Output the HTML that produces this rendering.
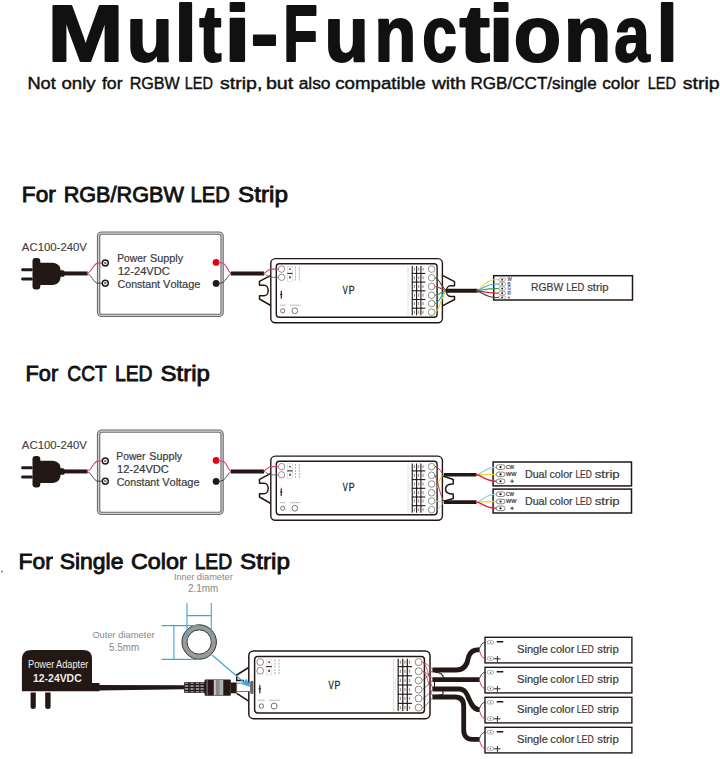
<!DOCTYPE html>
<html><head><meta charset="utf-8"><style>
html,body{margin:0;padding:0;background:#fff;}
svg{display:block;font-family:"Liberation Sans", sans-serif;font-kerning:none;font-variant-ligatures:none;}
</style></head><body>
<svg width="720" height="759" viewBox="0 0 720 759">
<rect width="720" height="759" fill="#fff"/>
<text x="47.40" y="61" font-size="79" font-weight="bold" fill="#111" textLength="76.01" lengthAdjust="spacingAndGlyphs" stroke="#111" stroke-width="2" stroke-linejoin="round">M</text>
<g transform="translate(0,61) scale(1,0.978) translate(0,-61)">
<text x="126.59" y="61" font-size="79" font-weight="bold" fill="#111" textLength="46.42" lengthAdjust="spacingAndGlyphs" stroke="#111" stroke-width="2" stroke-linejoin="round">u</text>
</g>
<text x="174.40" y="61" font-size="79" font-weight="bold" fill="#111" textLength="22.27" lengthAdjust="spacingAndGlyphs" stroke="#111" stroke-width="2" stroke-linejoin="round">l</text>
<text x="199.18" y="61" font-size="79" font-weight="bold" fill="#111" textLength="22.34" lengthAdjust="spacingAndGlyphs" stroke="#111" stroke-width="2" stroke-linejoin="round">t</text>
<text x="224.38" y="61" font-size="79" font-weight="bold" fill="#111" textLength="26.32" lengthAdjust="spacingAndGlyphs" stroke="#111" stroke-width="2" stroke-linejoin="round">i</text>
<text x="250.77" y="61" font-size="79" font-weight="bold" fill="#111" textLength="27.54" lengthAdjust="spacingAndGlyphs" stroke="#111" stroke-width="2" stroke-linejoin="round">-</text>
<text x="283.22" y="61" font-size="79" font-weight="bold" fill="#111" textLength="34.56" lengthAdjust="spacingAndGlyphs" stroke="#111" stroke-width="2" stroke-linejoin="round">F</text>
<g transform="translate(0,61) scale(1,0.978) translate(0,-61)">
<text x="324.51" y="61" font-size="79" font-weight="bold" fill="#111" textLength="44.27" lengthAdjust="spacingAndGlyphs" stroke="#111" stroke-width="2" stroke-linejoin="round">u</text>
</g>
<g transform="translate(0,61) scale(1,0.978) translate(0,-61)">
<text x="374.50" y="61" font-size="79" font-weight="bold" fill="#111" textLength="41.74" lengthAdjust="spacingAndGlyphs" stroke="#111" stroke-width="2" stroke-linejoin="round">n</text>
</g>
<g transform="translate(0,61) scale(1,0.978) translate(0,-61)">
<text x="422.17" y="61" font-size="79" font-weight="bold" fill="#111" textLength="34.66" lengthAdjust="spacingAndGlyphs" stroke="#111" stroke-width="2" stroke-linejoin="round">c</text>
</g>
<text x="459.58" y="61" font-size="79" font-weight="bold" fill="#111" textLength="30.54" lengthAdjust="spacingAndGlyphs" stroke="#111" stroke-width="2" stroke-linejoin="round">t</text>
<text x="488.64" y="61" font-size="79" font-weight="bold" fill="#111" textLength="25.31" lengthAdjust="spacingAndGlyphs" stroke="#111" stroke-width="2" stroke-linejoin="round">i</text>
<g transform="translate(0,61) scale(1,0.978) translate(0,-61)">
<text x="513.67" y="61" font-size="79" font-weight="bold" fill="#111" textLength="47.36" lengthAdjust="spacingAndGlyphs" stroke="#111" stroke-width="2" stroke-linejoin="round">o</text>
</g>
<g transform="translate(0,61) scale(1,0.978) translate(0,-61)">
<text x="563.85" y="61" font-size="79" font-weight="bold" fill="#111" textLength="47.69" lengthAdjust="spacingAndGlyphs" stroke="#111" stroke-width="2" stroke-linejoin="round">n</text>
</g>
<g transform="translate(0,61) scale(1,0.978) translate(0,-61)">
<text x="614.13" y="61" font-size="79" font-weight="bold" fill="#111" textLength="35.46" lengthAdjust="spacingAndGlyphs" stroke="#111" stroke-width="2" stroke-linejoin="round">a</text>
</g>
<text x="656.46" y="61" font-size="79" font-weight="bold" fill="#111" textLength="21.26" lengthAdjust="spacingAndGlyphs" stroke="#111" stroke-width="2" stroke-linejoin="round">l</text>
<text x="27.41" y="89" font-size="17.4" font-weight="normal" fill="#111" textLength="28.33" lengthAdjust="spacingAndGlyphs" stroke="#111" stroke-width="0.45">Not</text>
<text x="61.42" y="89" font-size="17.4" font-weight="normal" fill="#111" textLength="34.22" lengthAdjust="spacingAndGlyphs" stroke="#111" stroke-width="0.45">only</text>
<text x="101.95" y="89" font-size="17.4" font-weight="normal" fill="#111" textLength="20.64" lengthAdjust="spacingAndGlyphs" stroke="#111" stroke-width="0.45">for</text>
<text x="129.68" y="89" font-size="17.4" font-weight="normal" fill="#111" textLength="50.18" lengthAdjust="spacingAndGlyphs" stroke="#111" stroke-width="0.45">RGBW</text>
<text x="184.81" y="89" font-size="17.4" font-weight="normal" fill="#111" textLength="28.18" lengthAdjust="spacingAndGlyphs" stroke="#111" stroke-width="0.45">LED</text>
<text x="219.96" y="89" font-size="17.4" font-weight="normal" fill="#111" textLength="42.40" lengthAdjust="spacingAndGlyphs" stroke="#111" stroke-width="0.45">strip,</text>
<text x="265.93" y="89" font-size="17.4" font-weight="normal" fill="#111" textLength="27.31" lengthAdjust="spacingAndGlyphs" stroke="#111" stroke-width="0.45">but</text>
<text x="298.66" y="89" font-size="17.4" font-weight="normal" fill="#111" textLength="31.87" lengthAdjust="spacingAndGlyphs" stroke="#111" stroke-width="0.45">also</text>
<text x="335.21" y="89" font-size="17.4" font-weight="normal" fill="#111" textLength="90.43" lengthAdjust="spacingAndGlyphs" stroke="#111" stroke-width="0.45">compatible</text>
<text x="431.93" y="89" font-size="17.4" font-weight="normal" fill="#111" textLength="34.12" lengthAdjust="spacingAndGlyphs" stroke="#111" stroke-width="0.45">with</text>
<text x="470.50" y="89" font-size="17.4" font-weight="normal" fill="#111" textLength="126.16" lengthAdjust="spacingAndGlyphs" stroke="#111" stroke-width="0.45">RGB/CCT/single</text>
<text x="602.27" y="89" font-size="17.4" font-weight="normal" fill="#111" textLength="37.21" lengthAdjust="spacingAndGlyphs" stroke="#111" stroke-width="0.45">color</text>
<text x="647.75" y="89" font-size="17.4" font-weight="normal" fill="#111" textLength="28.34" lengthAdjust="spacingAndGlyphs" stroke="#111" stroke-width="0.45">LED</text>
<text x="682.66" y="89" font-size="17.4" font-weight="normal" fill="#111" textLength="36.97" lengthAdjust="spacingAndGlyphs" stroke="#111" stroke-width="0.45">strip</text>
<text x="21.87" y="202" font-size="21.8" font-weight="normal" fill="#111" textLength="33.89" lengthAdjust="spacingAndGlyphs" stroke="#111" stroke-width="0.85">For</text>
<text x="63.65" y="202" font-size="21.8" font-weight="normal" fill="#111" textLength="120.21" lengthAdjust="spacingAndGlyphs" stroke="#111" stroke-width="0.85">RGB/RGBW</text>
<text x="190.46" y="202" font-size="21.8" font-weight="normal" fill="#111" textLength="39.28" lengthAdjust="spacingAndGlyphs" stroke="#111" stroke-width="0.85">LED</text>
<text x="238.02" y="202" font-size="21.8" font-weight="normal" fill="#111" textLength="49.88" lengthAdjust="spacingAndGlyphs" stroke="#111" stroke-width="0.85">Strip</text>
<text x="25.54" y="381" font-size="21.8" font-weight="normal" fill="#111" textLength="32.60" lengthAdjust="spacingAndGlyphs" stroke="#111" stroke-width="0.85">For</text>
<text x="67.34" y="381" font-size="21.8" font-weight="normal" fill="#111" textLength="39.48" lengthAdjust="spacingAndGlyphs" stroke="#111" stroke-width="0.85">CCT</text>
<text x="114.94" y="381" font-size="21.8" font-weight="normal" fill="#111" textLength="37.57" lengthAdjust="spacingAndGlyphs" stroke="#111" stroke-width="0.85">LED</text>
<text x="160.53" y="381" font-size="21.8" font-weight="normal" fill="#111" textLength="49.36" lengthAdjust="spacingAndGlyphs" stroke="#111" stroke-width="0.85">Strip</text>
<text x="18.55" y="568.7" font-size="21.8" font-weight="normal" fill="#111" textLength="34.21" lengthAdjust="spacingAndGlyphs" stroke="#111" stroke-width="0.85">For</text>
<text x="59.68" y="568.7" font-size="21.8" font-weight="normal" fill="#111" textLength="63.72" lengthAdjust="spacingAndGlyphs" stroke="#111" stroke-width="0.85">Single</text>
<text x="130.94" y="568.7" font-size="21.8" font-weight="normal" fill="#111" textLength="55.73" lengthAdjust="spacingAndGlyphs" stroke="#111" stroke-width="0.85">Color</text>
<text x="194.64" y="568.7" font-size="21.8" font-weight="normal" fill="#111" textLength="37.57" lengthAdjust="spacingAndGlyphs" stroke="#111" stroke-width="0.85">LED</text>
<text x="240.02" y="568.7" font-size="21.8" font-weight="normal" fill="#111" textLength="49.88" lengthAdjust="spacingAndGlyphs" stroke="#111" stroke-width="0.85">Strip</text>
<defs><g id="vpbody"><rect x="270.8" y="258.6" width="171.6" height="64.1" rx="4.5" fill="#fff" stroke="#231815" stroke-width="1.4"/><rect x="276.3" y="263.8" width="160.8" height="53.5" rx="3" fill="none" stroke="#231815" stroke-width="1.4"/><circle cx="281.6" cy="269.1" r="3.2" fill="#fff" stroke="#777" stroke-width="0.8"/><circle cx="281.6" cy="277.3" r="3.2" fill="#fff" stroke="#777" stroke-width="0.8"/><rect x="287.3" y="266.3" width="5.3" height="14.9" fill="none" stroke="#ccc" stroke-width="0.5"/><line x1="287.3" y1="273.4" x2="292.6" y2="273.4" stroke="#231815" stroke-width="1"/><rect x="289.4" y="268.4" width="1.3" height="1.5" fill="#231815"/><rect x="289.4" y="276.2" width="1.3" height="2.2" fill="#231815"/><line x1="295.5" y1="266.5" x2="295.5" y2="280.5" stroke="#aaa" stroke-width="0.9" stroke-dasharray="2 1"/><line x1="299.4" y1="266.5" x2="299.4" y2="280.5" stroke="#aaa" stroke-width="0.9" stroke-dasharray="2 1"/><line x1="281.25" y1="289" x2="281.25" y2="300.4" stroke="#ccc" stroke-width="0.6"/><line x1="281.25" y1="291" x2="281.25" y2="298.5" stroke="#231815" stroke-width="1.1"/><line x1="280" y1="294.5" x2="282.5" y2="294.5" stroke="#231815" stroke-width="0.8"/><line x1="279.8" y1="305.2" x2="285.9" y2="305.2" stroke="#999" stroke-width="0.9" stroke-dasharray="1.4 0.5"/><line x1="290.1" y1="305.2" x2="300.5" y2="305.2" stroke="#999" stroke-width="0.9" stroke-dasharray="1.4 0.5"/><circle cx="282.7" cy="310.75" r="2.1" fill="none" stroke="#555" stroke-width="0.8"/><circle cx="294.8" cy="310.75" r="2.85" fill="none" stroke="#555" stroke-width="0.8"/><line x1="408" y1="266" x2="408" y2="315.3" stroke="#d8d8d8" stroke-width="0.8"/><line x1="409.8" y1="285" x2="409.8" y2="296" stroke="#bbb" stroke-width="0.6" stroke-dasharray="1 0.6"/><line x1="412.25" y1="265.9" x2="412.25" y2="315.3" stroke="#231815" stroke-width="1.1"/><line x1="416.6" y1="265.9" x2="416.6" y2="315.3" stroke="#231815" stroke-width="1.1"/><line x1="420.9" y1="265.9" x2="420.9" y2="315.3" stroke="#231815" stroke-width="1.1"/><line x1="411.9" y1="273.4" x2="425.3" y2="273.4" stroke="#231815" stroke-width="1.1"/><line x1="411.9" y1="282.1" x2="425.3" y2="282.1" stroke="#231815" stroke-width="1.1"/><line x1="411.9" y1="290.8" x2="425.3" y2="290.8" stroke="#231815" stroke-width="1.1"/><line x1="411.9" y1="299.5" x2="425.3" y2="299.5" stroke="#231815" stroke-width="1.1"/><line x1="411.9" y1="308.2" x2="425.3" y2="308.2" stroke="#231815" stroke-width="1.1"/><rect x="413.79999999999995" y="267.6" width="1.2" height="3" fill="#999"/><rect x="418.09999999999997" y="267.6" width="1.2" height="3" fill="#999"/><rect x="422.4" y="267.6" width="1.2" height="3" fill="#999"/><circle cx="431.6" cy="269.1" r="3.3" fill="#fff" stroke="#777" stroke-width="0.8"/><rect x="413.79999999999995" y="276.3" width="1.2" height="3" fill="#999"/><rect x="418.09999999999997" y="276.3" width="1.2" height="3" fill="#999"/><rect x="422.4" y="276.3" width="1.2" height="3" fill="#999"/><circle cx="431.6" cy="277.8" r="3.3" fill="#fff" stroke="#777" stroke-width="0.8"/><rect x="413.79999999999995" y="285.0" width="1.2" height="3" fill="#999"/><rect x="418.09999999999997" y="285.0" width="1.2" height="3" fill="#999"/><rect x="422.4" y="285.0" width="1.2" height="3" fill="#999"/><circle cx="431.6" cy="286.5" r="3.3" fill="#fff" stroke="#777" stroke-width="0.8"/><rect x="413.79999999999995" y="293.7" width="1.2" height="3" fill="#999"/><rect x="418.09999999999997" y="293.7" width="1.2" height="3" fill="#999"/><rect x="422.4" y="293.7" width="1.2" height="3" fill="#999"/><circle cx="431.6" cy="295.2" r="3.3" fill="#fff" stroke="#777" stroke-width="0.8"/><rect x="413.79999999999995" y="302.0" width="1.2" height="3" fill="#999"/><rect x="418.09999999999997" y="302.0" width="1.2" height="3" fill="#999"/><rect x="422.4" y="302.0" width="1.2" height="3" fill="#999"/><circle cx="431.6" cy="303.5" r="3.3" fill="#fff" stroke="#777" stroke-width="0.8"/><rect x="413.79999999999995" y="310.7" width="1.2" height="3" fill="#999"/><rect x="418.09999999999997" y="310.7" width="1.2" height="3" fill="#999"/><rect x="422.4" y="310.7" width="1.2" height="3" fill="#999"/><circle cx="431.6" cy="312.2" r="3.3" fill="#fff" stroke="#777" stroke-width="0.8"/></g></defs>
<g transform="translate(0,0)">
<rect x="98.6" y="233.1" width="123.5" height="82.3" rx="3.2" fill="none" stroke="#6c6c6c" stroke-width="3.4"/>
<rect x="98.6" y="233.1" width="123.5" height="82.3" rx="3.2" fill="none" stroke="#d2d2d2" stroke-width="1.2"/>
<text x="21.88" y="250.6" font-size="10.9" font-weight="normal" fill="#444" textLength="65.07" lengthAdjust="spacingAndGlyphs" stroke="#444" stroke-width="0.15">AC100-240V</text>
<rect x="21.2" y="268.2" width="11.5" height="3.1" rx="1.4" fill="#231815"/>
<rect x="21.2" y="277.5" width="11.5" height="3.1" rx="1.4" fill="#231815"/>
<rect x="32.5" y="258" width="7.8" height="31.4" rx="3.2" fill="#231815"/>
<path d="M39,262.8 L52,262.8 C58,262.8 60.5,267 60.5,270 L60.5,277 C60.5,281 58,285 52,285 L39,285 Z" fill="#231815"/>
<rect x="58.5" y="270.3" width="6" height="6.4" rx="1.5" fill="#231815"/>
<line x1="63" y1="273.45" x2="87.5" y2="273.45" stroke="#231815" stroke-width="4"/>
<path d="M86.5,273.2 C92,273 93,263.2 98,263.1 L102,263" fill="none" stroke="#e0406a" stroke-width="1.1"/>
<path d="M86.5,273.8 C92,274 93,283 98,283.2 L102,283.2" fill="none" stroke="#333" stroke-width="0.9"/>
<circle cx="105.3" cy="263" r="3" fill="#fff" stroke="#231815" stroke-width="1.4"/>
<path d="M103.9,261.6 L106.7,264.4 M106.7,261.6 L103.9,264.4" stroke="#231815" stroke-width="0.7"/>
<circle cx="105.3" cy="283.2" r="3" fill="#fff" stroke="#231815" stroke-width="1.4"/>
<path d="M103.9,281.8 L106.7,284.59999999999997 M106.7,281.8 L103.9,284.59999999999997" stroke="#231815" stroke-width="0.7"/>
<g transform="translate(0,0)">
<text x="117.26" y="261.9" font-size="10.9" font-weight="normal" fill="#3a3a3a" textLength="29.16" lengthAdjust="spacingAndGlyphs" stroke="#3a3a3a" stroke-width="0.2">Power</text>
<text x="150.11" y="261.9" font-size="10.9" font-weight="normal" fill="#3a3a3a" textLength="33.01" lengthAdjust="spacingAndGlyphs" stroke="#3a3a3a" stroke-width="0.2">Supply</text>
<text x="117.90" y="274.6" font-size="10.9" font-weight="normal" fill="#3a3a3a" textLength="51.92" lengthAdjust="spacingAndGlyphs" stroke="#3a3a3a" stroke-width="0.2">12-24VDC</text>
<text x="117.56" y="288.1" font-size="10.9" font-weight="normal" fill="#3a3a3a" textLength="42.52" lengthAdjust="spacingAndGlyphs" stroke="#3a3a3a" stroke-width="0.2">Constant</text>
<text x="163.05" y="288.1" font-size="10.9" font-weight="normal" fill="#3a3a3a" textLength="37.44" lengthAdjust="spacingAndGlyphs" stroke="#3a3a3a" stroke-width="0.2">Voltage</text>
</g>
<circle cx="216.1" cy="262.4" r="3.4" fill="#e60012"/>
<circle cx="216.1" cy="283.4" r="3.4" fill="#231815"/>
<path d="M218,262.5 C222,262.5 224,263 226,266 C228,269.5 229,273.2 232,273.3" fill="none" stroke="#d8406a" stroke-width="1.1"/>
<path d="M218,283.3 C221,283.3 223,283 225.5,280 C228,277 229,273.8 232,273.7" fill="none" stroke="#333" stroke-width="0.9"/>
<line x1="231" y1="273.5" x2="264" y2="273.5" stroke="#231815" stroke-width="3.8"/>
<path d="M270.8,275.3 L259.5,281.3 L259.5,285.3 L264,285.3 A4.2 5.25 0 0 1 264,295.8 L259.5,295.8 L259.5,299 L270.8,305.5" fill="none" stroke="#231815" stroke-width="1.5" stroke-linejoin="round"/>
</g>
<use href="#vpbody" transform="translate(0,0)"/>
<g transform="translate(0,0)">
<path d="M263.5,273.2 C266.5,272.8 267.5,269.2 271.5,269.1 L278.4,269.1" fill="none" stroke="#d8406a" stroke-width="1.1"/>
<path d="M263.5,273.8 C266,274.2 267.5,276.6 270.5,277.3 L278.4,277.3" fill="none" stroke="#555" stroke-width="0.8"/>
<text x="342.84" y="293.75" font-size="10.9" font-weight="normal" fill="#2a2a2a" textLength="4.92" lengthAdjust="spacingAndGlyphs" stroke="#2a2a2a" stroke-width="0.35">V</text>
<text x="348.75" y="293.75" font-size="10.9" font-weight="normal" fill="#2a2a2a" textLength="5.84" lengthAdjust="spacingAndGlyphs" stroke="#2a2a2a" stroke-width="0.35">P</text>
</g>
<g transform="translate(0,198)">
<rect x="98.6" y="233.1" width="123.5" height="82.3" rx="3.2" fill="none" stroke="#6c6c6c" stroke-width="3.4"/>
<rect x="98.6" y="233.1" width="123.5" height="82.3" rx="3.2" fill="none" stroke="#d2d2d2" stroke-width="1.2"/>
<text x="21.88" y="250.6" font-size="10.9" font-weight="normal" fill="#444" textLength="65.07" lengthAdjust="spacingAndGlyphs" stroke="#444" stroke-width="0.15">AC100-240V</text>
<rect x="21.2" y="268.2" width="11.5" height="3.1" rx="1.4" fill="#231815"/>
<rect x="21.2" y="277.5" width="11.5" height="3.1" rx="1.4" fill="#231815"/>
<rect x="32.5" y="258" width="7.8" height="31.4" rx="3.2" fill="#231815"/>
<path d="M39,262.8 L52,262.8 C58,262.8 60.5,267 60.5,270 L60.5,277 C60.5,281 58,285 52,285 L39,285 Z" fill="#231815"/>
<rect x="58.5" y="270.3" width="6" height="6.4" rx="1.5" fill="#231815"/>
<line x1="63" y1="273.45" x2="87.5" y2="273.45" stroke="#231815" stroke-width="4"/>
<path d="M86.5,273.2 C92,273 93,263.2 98,263.1 L102,263" fill="none" stroke="#e0406a" stroke-width="1.1"/>
<path d="M86.5,273.8 C92,274 93,283 98,283.2 L102,283.2" fill="none" stroke="#333" stroke-width="0.9"/>
<circle cx="105.3" cy="263" r="3" fill="#fff" stroke="#231815" stroke-width="1.4"/>
<path d="M103.9,261.6 L106.7,264.4 M106.7,261.6 L103.9,264.4" stroke="#231815" stroke-width="0.7"/>
<circle cx="105.3" cy="283.2" r="3" fill="#fff" stroke="#231815" stroke-width="1.4"/>
<path d="M103.9,281.8 L106.7,284.59999999999997 M106.7,281.8 L103.9,284.59999999999997" stroke="#231815" stroke-width="0.7"/>
<g transform="translate(-0.9,0)">
<text x="117.26" y="261.9" font-size="10.9" font-weight="normal" fill="#3a3a3a" textLength="29.16" lengthAdjust="spacingAndGlyphs" stroke="#3a3a3a" stroke-width="0.2">Power</text>
<text x="150.11" y="261.9" font-size="10.9" font-weight="normal" fill="#3a3a3a" textLength="33.01" lengthAdjust="spacingAndGlyphs" stroke="#3a3a3a" stroke-width="0.2">Supply</text>
<text x="117.90" y="274.6" font-size="10.9" font-weight="normal" fill="#3a3a3a" textLength="51.92" lengthAdjust="spacingAndGlyphs" stroke="#3a3a3a" stroke-width="0.2">12-24VDC</text>
<text x="117.56" y="288.1" font-size="10.9" font-weight="normal" fill="#3a3a3a" textLength="42.52" lengthAdjust="spacingAndGlyphs" stroke="#3a3a3a" stroke-width="0.2">Constant</text>
<text x="163.05" y="288.1" font-size="10.9" font-weight="normal" fill="#3a3a3a" textLength="37.44" lengthAdjust="spacingAndGlyphs" stroke="#3a3a3a" stroke-width="0.2">Voltage</text>
</g>
<circle cx="216.1" cy="262.4" r="3.4" fill="#e60012"/>
<circle cx="216.1" cy="283.4" r="3.4" fill="#231815"/>
<path d="M218,262.5 C222,262.5 224,263 226,266 C228,269.5 229,273.2 232,273.3" fill="none" stroke="#d8406a" stroke-width="1.1"/>
<path d="M218,283.3 C221,283.3 223,283 225.5,280 C228,277 229,273.8 232,273.7" fill="none" stroke="#333" stroke-width="0.9"/>
<line x1="231" y1="273.5" x2="264" y2="273.5" stroke="#231815" stroke-width="3.8"/>
<path d="M270.8,275.3 L259.5,281.3 L259.5,285.3 L264,285.3 A4.2 5.25 0 0 1 264,295.8 L259.5,295.8 L259.5,299 L270.8,305.5" fill="none" stroke="#231815" stroke-width="1.5" stroke-linejoin="round"/>
</g>
<use href="#vpbody" transform="translate(0,197.5)"/>
<g transform="translate(0,197.5)">
<path d="M263.5,273.2 C266.5,272.8 267.5,269.2 271.5,269.1 L278.4,269.1" fill="none" stroke="#d8406a" stroke-width="1.1"/>
<path d="M263.5,273.8 C266,274.2 267.5,276.6 270.5,277.3 L278.4,277.3" fill="none" stroke="#555" stroke-width="0.8"/>
<text x="342.84" y="293.75" font-size="10.9" font-weight="normal" fill="#2a2a2a" textLength="4.92" lengthAdjust="spacingAndGlyphs" stroke="#2a2a2a" stroke-width="0.35">V</text>
<text x="348.75" y="293.75" font-size="10.9" font-weight="normal" fill="#2a2a2a" textLength="5.84" lengthAdjust="spacingAndGlyphs" stroke="#2a2a2a" stroke-width="0.35">P</text>
</g>
<path d="M442.4,275.3 L454.5,281.6 L454.5,285.8 L450.5,285.8 A4.2 5.3 0 0 0 450.5,296.4 L454.5,296.4 L454.5,299.5 L442.4,305.8" fill="none" stroke="#231815" stroke-width="1.5" stroke-linejoin="round"/>
<path d="M434.8,277.8 C440,277.8 442,290.6 447.5,290.6" fill="none" stroke="#444" stroke-width="1.1"/>
<path d="M434.8,286.5 C440,286.5 442,290.6 447.5,290.6" fill="none" stroke="#e0203a" stroke-width="1.1"/>
<path d="M434.8,295.2 C440,295.2 442,290.6 447.5,290.6" fill="none" stroke="#2aa04a" stroke-width="1.1"/>
<path d="M434.8,303.5 C440,303.5 442,290.6 447.5,290.6" fill="none" stroke="#29a0e0" stroke-width="1.1"/>
<path d="M434.8,312.2 C440,312.2 442,290.6 447.5,290.6" fill="none" stroke="#f0d020" stroke-width="1.1"/>
<line x1="447.5" y1="290.8" x2="477" y2="290.8" stroke="#231815" stroke-width="4" stroke-linecap="round"/>
<rect x="493.7" y="275.7" width="138.8" height="24.3" fill="#fff" stroke="#231815" stroke-width="1.5"/>
<path d="M476.5,290.8 C482,289.468 486,277.702 499,279.7" fill="none" stroke="#f0d840" stroke-width="1.2"/>
<path d="M476.5,290.8 C482,289.99600000000004 486,282.894 499,284.1" fill="none" stroke="#40b0e0" stroke-width="1.2"/>
<path d="M476.5,290.8 C482,290.536 486,288.204 499,288.6" fill="none" stroke="#30a050" stroke-width="1.2"/>
<path d="M476.5,290.8 C482,291.064 486,293.396 499,293.0" fill="none" stroke="#e02040" stroke-width="1.2"/>
<path d="M476.5,290.8 C482,291.592 486,298.58799999999997 499,297.4" fill="none" stroke="#444" stroke-width="1.2"/>
<rect x="498.8" y="278.0" width="6.8" height="3.4" rx="1.7" fill="#fff" stroke="#777" stroke-width="0.6"/>
<circle cx="502.2" cy="279.7" r="0.9" fill="#231815"/>
<text x="507.6" y="281.4" font-size="4.6" fill="#444" stroke="#444" stroke-width="0.15">W</text>
<rect x="498.8" y="282.40000000000003" width="6.8" height="3.4" rx="1.7" fill="#fff" stroke="#777" stroke-width="0.6"/>
<circle cx="502.2" cy="284.1" r="0.9" fill="#231815"/>
<text x="507.6" y="285.8" font-size="4.6" fill="#444" stroke="#444" stroke-width="0.15">B</text>
<rect x="498.8" y="286.90000000000003" width="6.8" height="3.4" rx="1.7" fill="#fff" stroke="#777" stroke-width="0.6"/>
<circle cx="502.2" cy="288.6" r="0.9" fill="#231815"/>
<text x="507.6" y="290.3" font-size="4.6" fill="#444" stroke="#444" stroke-width="0.15">G</text>
<rect x="498.8" y="291.3" width="6.8" height="3.4" rx="1.7" fill="#fff" stroke="#777" stroke-width="0.6"/>
<circle cx="502.2" cy="293.0" r="0.9" fill="#231815"/>
<text x="507.6" y="294.7" font-size="4.6" fill="#444" stroke="#444" stroke-width="0.15">R</text>
<rect x="498.8" y="295.7" width="6.8" height="3.4" rx="1.7" fill="#fff" stroke="#777" stroke-width="0.6"/>
<circle cx="502.2" cy="297.4" r="0.9" fill="#231815"/>
<text x="507.6" y="299.09999999999997" font-size="4.6" fill="#444" stroke="#444" stroke-width="0.15">+</text>
<text x="531.05" y="291.1" font-size="11.6" font-weight="normal" fill="#3a3a3a" textLength="32.08" lengthAdjust="spacingAndGlyphs" stroke="#3a3a3a" stroke-width="0.2">RGBW</text>
<text x="566.14" y="291.1" font-size="11.6" font-weight="normal" fill="#3a3a3a" textLength="18.06" lengthAdjust="spacingAndGlyphs" stroke="#3a3a3a" stroke-width="0.2">LED</text>
<text x="587.18" y="291.1" font-size="11.6" font-weight="normal" fill="#3a3a3a" textLength="21.39" lengthAdjust="spacingAndGlyphs" stroke="#3a3a3a" stroke-width="0.2">strip</text>
<path d="M443,476 L453.2,479.5 L453.2,484 C447,484 445.5,486.5 445.5,489 C445.5,491.5 447,494 453.2,494 L453.2,498.5 L443,501.5" fill="none" stroke="#231815" stroke-width="1.5" stroke-linejoin="round"/>
<path d="M434.8,466.6 C440,467 441,474 444.5,474.6" fill="none" stroke="#d03050" stroke-width="1"/>
<path d="M444.5,474.8 C440,476 439,482 437,488" fill="none" stroke="#f0d020" stroke-width="0.9"/>
<path d="M434.8,474.9 C438,480 440,497 444.5,502" fill="none" stroke="#d03050" stroke-width="1"/>
<path d="M434.8,501.2 C438,501.3 441,501.8 444.5,502" fill="none" stroke="#f0d020" stroke-width="1"/>
<path d="M444.5,502.2 C441,504 440,508 437.5,510" fill="none" stroke="#9cd0e8" stroke-width="0.8"/>
<line x1="444" y1="474.7" x2="476.5" y2="474.7" stroke="#231815" stroke-width="3.6"/>
<line x1="444" y1="502.1" x2="476.5" y2="502.1" stroke="#231815" stroke-width="3.6"/>
<rect x="493.1" y="462" width="138.4" height="23.9" fill="#fff" stroke="#231815" stroke-width="1.5"/>
<path d="M476,474.75 C482,474.75 484,467.1 497,467.1" fill="none" stroke="#9ccce6" stroke-width="1.3"/>
<path d="M476,474.75 C482,474.75 484,474.4 497,474.4" fill="none" stroke="#f2d42a" stroke-width="1.3"/>
<path d="M476,474.75 C482,474.75 484,481.25 497,481.25" fill="none" stroke="#e02040" stroke-width="1.3"/>
<rect x="496.3" y="464.8" width="8.7" height="4.6" rx="2.3" fill="#fff" stroke="#555" stroke-width="0.7"/>
<circle cx="500.5" cy="467.1" r="1.1" fill="#231815"/>
<rect x="496.3" y="472.09999999999997" width="8.7" height="4.6" rx="2.3" fill="#fff" stroke="#555" stroke-width="0.7"/>
<circle cx="500.5" cy="474.4" r="1.1" fill="#231815"/>
<rect x="496.3" y="478.95" width="8.7" height="4.6" rx="2.3" fill="#fff" stroke="#555" stroke-width="0.7"/>
<circle cx="500.5" cy="481.25" r="1.1" fill="#231815"/>
<text x="506" y="468.9" font-size="5.2" fill="#333" stroke="#333" stroke-width="0.2" textLength="8" lengthAdjust="spacingAndGlyphs">CW</text>
<text x="506" y="476" font-size="5.2" fill="#333" stroke="#333" stroke-width="0.2" textLength="10.5" lengthAdjust="spacingAndGlyphs">WW</text>
<path d="M510.3,481.2 L513.9,481.2 M512.1,479.4 L512.1,483" stroke="#333" stroke-width="0.9"/>
<rect x="493.1" y="489.1" width="138.4" height="23.9" fill="#fff" stroke="#231815" stroke-width="1.5"/>
<path d="M476,502.2 C482,502.2 484,494.20000000000005 497,494.20000000000005" fill="none" stroke="#9ccce6" stroke-width="1.3"/>
<path d="M476,502.2 C482,502.2 484,501.5 497,501.5" fill="none" stroke="#f2d42a" stroke-width="1.3"/>
<path d="M476,502.2 C482,502.2 484,508.35 497,508.35" fill="none" stroke="#e02040" stroke-width="1.3"/>
<rect x="496.3" y="491.90000000000003" width="8.7" height="4.6" rx="2.3" fill="#fff" stroke="#555" stroke-width="0.7"/>
<circle cx="500.5" cy="494.20000000000005" r="1.1" fill="#231815"/>
<rect x="496.3" y="499.2" width="8.7" height="4.6" rx="2.3" fill="#fff" stroke="#555" stroke-width="0.7"/>
<circle cx="500.5" cy="501.5" r="1.1" fill="#231815"/>
<rect x="496.3" y="506.05" width="8.7" height="4.6" rx="2.3" fill="#fff" stroke="#555" stroke-width="0.7"/>
<circle cx="500.5" cy="508.35" r="1.1" fill="#231815"/>
<text x="506" y="496.0" font-size="5.2" fill="#333" stroke="#333" stroke-width="0.2" textLength="8" lengthAdjust="spacingAndGlyphs">CW</text>
<text x="506" y="503.1" font-size="5.2" fill="#333" stroke="#333" stroke-width="0.2" textLength="10.5" lengthAdjust="spacingAndGlyphs">WW</text>
<path d="M510.3,508.3 L513.9,508.3 M512.1,506.5 L512.1,510.1" stroke="#333" stroke-width="0.9"/>
<text x="524.92" y="477.9" font-size="10.9" font-weight="normal" fill="#3a3a3a" textLength="22.05" lengthAdjust="spacingAndGlyphs" stroke="#3a3a3a" stroke-width="0.2">Dual</text>
<text x="549.44" y="477.9" font-size="10.9" font-weight="normal" fill="#3a3a3a" textLength="23.23" lengthAdjust="spacingAndGlyphs" stroke="#3a3a3a" stroke-width="0.2">color</text>
<text x="575.40" y="477.9" font-size="10.9" font-weight="normal" fill="#3a3a3a" textLength="16.50" lengthAdjust="spacingAndGlyphs" stroke="#3a3a3a" stroke-width="0.2">LED</text>
<text x="594.73" y="477.9" font-size="10.9" font-weight="normal" fill="#3a3a3a" textLength="25.02" lengthAdjust="spacingAndGlyphs" stroke="#3a3a3a" stroke-width="0.2">strip</text>
<text x="524.92" y="504.6" font-size="10.9" font-weight="normal" fill="#3a3a3a" textLength="22.05" lengthAdjust="spacingAndGlyphs" stroke="#3a3a3a" stroke-width="0.2">Dual</text>
<text x="549.44" y="504.6" font-size="10.9" font-weight="normal" fill="#3a3a3a" textLength="23.23" lengthAdjust="spacingAndGlyphs" stroke="#3a3a3a" stroke-width="0.2">color</text>
<text x="575.40" y="504.6" font-size="10.9" font-weight="normal" fill="#3a3a3a" textLength="16.50" lengthAdjust="spacingAndGlyphs" stroke="#3a3a3a" stroke-width="0.2">LED</text>
<text x="594.73" y="504.6" font-size="10.9" font-weight="normal" fill="#3a3a3a" textLength="25.02" lengthAdjust="spacingAndGlyphs" stroke="#3a3a3a" stroke-width="0.2">strip</text>
<circle cx="199.2" cy="642" r="14.7" fill="none" stroke="#9a9a9a" stroke-width="5"/>
<circle cx="199.2" cy="642" r="17.2" fill="none" stroke="#333" stroke-width="1"/>
<circle cx="199.2" cy="642" r="12.2" fill="none" stroke="#333" stroke-width="1"/>
<path d="M187,603 L187,642 M211.3,603 L211.3,642 M187,615.6 L211.3,615.6 M161.5,625.6 L199,625.6 M161.5,659.4 L199,659.4 M173.9,625.6 L173.9,659.4" stroke="#3aa6da" stroke-width="1.1" fill="none"/>
<text x="174.08" y="580.4" font-size="9" font-weight="normal" fill="#888" textLength="20.37" lengthAdjust="spacingAndGlyphs" >Inner</text>
<text x="196.81" y="580.4" font-size="9" font-weight="normal" fill="#888" textLength="36.04" lengthAdjust="spacingAndGlyphs" >diameter</text>
<text x="188.00" y="592.4" font-size="10" font-weight="normal" fill="#888" textLength="30.25" lengthAdjust="spacingAndGlyphs" >2.1mm</text>
<text x="92.47" y="638.2" font-size="9.6" font-weight="normal" fill="#888" textLength="22.89" lengthAdjust="spacingAndGlyphs" >Outer</text>
<text x="118.21" y="638.2" font-size="9.6" font-weight="normal" fill="#888" textLength="36.55" lengthAdjust="spacingAndGlyphs" >diameter</text>
<text x="109.01" y="650.8" font-size="10" font-weight="normal" fill="#888" textLength="30.15" lengthAdjust="spacingAndGlyphs" >5.5mm</text>
<path d="M21.9,691.3 L21.9,660 C21.9,653 25,650 32,650 L83,650 C89,650 92,653 92,659 L92,683 L99.5,683 L99.5,691.3 Z" fill="#231815"/>
<path d="M30.6,692.4 L35.8,692.4 L35.8,706.5 Q35.8,709 33.2,709 Q30.6,709 30.6,706.5 Z" fill="#231815"/>
<path d="M45.2,692.4 L50.6,692.4 L50.6,706.5 Q50.6,709 47.9,709 Q45.2,709 45.2,706.5 Z" fill="#231815"/>
<text x="27.94" y="667.7" font-size="10" font-weight="normal" fill="#eee" textLength="26.42" lengthAdjust="spacingAndGlyphs" >Power</text>
<text x="56.08" y="667.7" font-size="10" font-weight="normal" fill="#eee" textLength="32.27" lengthAdjust="spacingAndGlyphs" >Adapter</text>
<text x="33.04" y="682.4" font-size="10" font-weight="bold" fill="#eee" textLength="48.64" lengthAdjust="spacingAndGlyphs" >12-24VDC</text>
<path d="M98,684.9 L185,685.3 L185,689.2 L98,690.6 Z" fill="#231815"/>
<rect x="184.2" y="682" width="20.8" height="11" fill="#3a3433"/>
<rect x="185" y="682.5" width="3" height="10" fill="#8a8686"/>
<rect x="190.5" y="682.5" width="3" height="10" fill="#8a8686"/>
<rect x="196" y="682.5" width="3" height="10" fill="#8a8686"/>
<rect x="200.5" y="682.5" width="3" height="10" fill="#8a8686"/>
<line x1="184.2" y1="684.5" x2="205" y2="684.5" stroke="#231815" stroke-width="1"/>
<line x1="184.2" y1="687.5" x2="205" y2="687.5" stroke="#231815" stroke-width="1"/>
<line x1="184.2" y1="690.5" x2="205" y2="690.5" stroke="#231815" stroke-width="1"/>
<rect x="204.6" y="679.6" width="26.2" height="16.2" rx="1" fill="#231815"/>
<rect x="206.5" y="680" width="1.2" height="15.4" fill="#777"/>
<rect x="213.75" y="680" width="2.9" height="15.4" fill="#bdbdbd"/>
<rect x="216.65" y="680" width="2.6" height="15.4" fill="#8c8c8c"/>
<rect x="219.2" y="680" width="4.1" height="15.4" fill="#b0b0b0"/>
<rect x="230.8" y="682.5" width="5.9" height="10.8" fill="#231815"/>
<path d="M248.75,667.5 L236.7,675 L236.7,680.5 L244,680.5 M236.7,693.3 L248.3,700.8" fill="none" stroke="#231815" stroke-width="1.5"/>
<use href="#vpbody" transform="translate(-37.16,377.92) scale(1.056)"/>
<rect x="236.7" y="683.2" width="13.7" height="8.3" fill="#fff" stroke="#555" stroke-width="0.8"/>
<rect x="250.4" y="680.8" width="3" height="13.4" rx="1.4" fill="#666"/>
<text x="328.44" y="688.7" font-size="10.9" font-weight="normal" fill="#2a2a2a" textLength="5.18" lengthAdjust="spacingAndGlyphs" stroke="#2a2a2a" stroke-width="0.35">V</text>
<text x="334.45" y="688.7" font-size="10.9" font-weight="normal" fill="#2a2a2a" textLength="5.84" lengthAdjust="spacingAndGlyphs" stroke="#2a2a2a" stroke-width="0.35">P</text>
<line x1="212" y1="655" x2="244.5" y2="682.8" stroke="#3aa6da" stroke-width="1.2"/>
<path d="M250.6,687 L241.5,684 L246.5,678.8 Z" fill="#3aa6da"/>
<path d="M422.5,662.2 C428,664.2 430,667 433.5,670" fill="none" stroke="#c8305a" stroke-width="0.8"/>
<path d="M422.5,671.25 C428,673.25 430,676.6 433.5,679.6" fill="none" stroke="#c8305a" stroke-width="0.8"/>
<path d="M422.5,662.2 C428,664.2 430,686 433.5,689" fill="none" stroke="#c8305a" stroke-width="0.8"/>
<path d="M422.5,671.25 C428,673.25 430,694 433.5,697" fill="none" stroke="#c8305a" stroke-width="0.8"/>
<path d="M422.5,680.3 C427,678.3 430,672 433.5,670" fill="none" stroke="#333" stroke-width="0.6"/>
<path d="M422.5,689.3 C427,687.3 430,681.6 433.5,679.6" fill="none" stroke="#333" stroke-width="0.6"/>
<path d="M422.5,699 C427,697 430,691 433.5,689" fill="none" stroke="#333" stroke-width="0.6"/>
<path d="M422.5,708 C427,706 430,699 433.5,697" fill="none" stroke="#333" stroke-width="0.6"/>
<path d="M435,672 C440,672.5 443.2,674.5 443.5,678" fill="none" stroke="#231815" stroke-width="1.1"/>
<path d="M434.5,681.5 L434.5,687" fill="none" stroke="#231815" stroke-width="1"/>
<path d="M443,691 L443,693.5 C443,694.8 441,695.2 437,695.2" fill="none" stroke="#231815" stroke-width="1.1"/>
<path d="M432.5,670 L456,670 C464,670 467,665 468,659 C469,653 473,649.6 479.5,649.6" fill="none" stroke="#231815" stroke-width="4.8"/>
<path d="M432.5,679.6 L479.5,679.6" fill="none" stroke="#231815" stroke-width="4.8"/>
<path d="M432.5,689 L459,689 C465,689 467,694 469,699 C471.5,705 474,709.7 479.5,709.7" fill="none" stroke="#231815" stroke-width="4.8"/>
<path d="M432.5,697 L455,697 C461,697 463.7,700.5 463.7,706 L463.7,730 C463.7,736 467,739.4 472,739.4 L479.5,739.4" fill="none" stroke="#231815" stroke-width="4.8"/>
<rect x="485" y="637.3" width="146.9" height="25.6" fill="#fff" stroke="#231815" stroke-width="1.4"/>
<path d="M479,649.6 C480.5,646.6 481,642.3 486,642.3" fill="none" stroke="#333" stroke-width="0.9"/>
<path d="M479,649.6 C480.5,652.6 481,658.5999999999999 486,658.5999999999999" fill="none" stroke="#d02048" stroke-width="1"/>
<rect x="487.2" y="640.5999999999999" width="6.4" height="3.4" rx="1.7" fill="#fff" stroke="#777" stroke-width="0.6"/>
<circle cx="490.4" cy="642.3" r="0.6" fill="#444"/>
<rect x="487.2" y="656.8999999999999" width="6.4" height="3.4" rx="1.7" fill="#fff" stroke="#777" stroke-width="0.6"/>
<circle cx="490.4" cy="658.5999999999999" r="0.6" fill="#444"/>
<rect x="496.7" y="641.0" width="6.6" height="1.5" fill="#231815"/>
<path d="M493.8,658.8 L500.5,658.8 M497.4,655.9 L497.4,661.9" stroke="#2a2a40" stroke-width="1"/>
<text x="516.99" y="653" font-size="10.9" font-weight="normal" fill="#3a3a3a" textLength="31.00" lengthAdjust="spacingAndGlyphs" stroke="#3a3a3a" stroke-width="0.2">Single</text>
<text x="550.33" y="653" font-size="10.9" font-weight="normal" fill="#3a3a3a" textLength="24.06" lengthAdjust="spacingAndGlyphs" stroke="#3a3a3a" stroke-width="0.2">color</text>
<text x="576.79" y="653" font-size="10.9" font-weight="normal" fill="#3a3a3a" textLength="16.93" lengthAdjust="spacingAndGlyphs" stroke="#3a3a3a" stroke-width="0.2">LED</text>
<text x="597.18" y="653" font-size="10.9" font-weight="normal" fill="#3a3a3a" textLength="21.60" lengthAdjust="spacingAndGlyphs" stroke="#3a3a3a" stroke-width="0.2">strip</text>
<rect x="485" y="667.3" width="146.9" height="25.6" fill="#fff" stroke="#231815" stroke-width="1.4"/>
<path d="M479,679.6 C480.5,676.6 481,672.3 486,672.3" fill="none" stroke="#333" stroke-width="0.9"/>
<path d="M479,679.6 C480.5,682.6 481,688.5999999999999 486,688.5999999999999" fill="none" stroke="#d02048" stroke-width="1"/>
<rect x="487.2" y="670.5999999999999" width="6.4" height="3.4" rx="1.7" fill="#fff" stroke="#777" stroke-width="0.6"/>
<circle cx="490.4" cy="672.3" r="0.6" fill="#444"/>
<rect x="487.2" y="686.8999999999999" width="6.4" height="3.4" rx="1.7" fill="#fff" stroke="#777" stroke-width="0.6"/>
<circle cx="490.4" cy="688.5999999999999" r="0.6" fill="#444"/>
<rect x="496.7" y="671.0" width="6.6" height="1.5" fill="#231815"/>
<path d="M493.8,688.8 L500.5,688.8 M497.4,685.9 L497.4,691.9" stroke="#2a2a40" stroke-width="1"/>
<text x="516.99" y="683" font-size="10.9" font-weight="normal" fill="#3a3a3a" textLength="31.00" lengthAdjust="spacingAndGlyphs" stroke="#3a3a3a" stroke-width="0.2">Single</text>
<text x="550.33" y="683" font-size="10.9" font-weight="normal" fill="#3a3a3a" textLength="24.06" lengthAdjust="spacingAndGlyphs" stroke="#3a3a3a" stroke-width="0.2">color</text>
<text x="576.79" y="683" font-size="10.9" font-weight="normal" fill="#3a3a3a" textLength="16.93" lengthAdjust="spacingAndGlyphs" stroke="#3a3a3a" stroke-width="0.2">LED</text>
<text x="597.18" y="683" font-size="10.9" font-weight="normal" fill="#3a3a3a" textLength="21.60" lengthAdjust="spacingAndGlyphs" stroke="#3a3a3a" stroke-width="0.2">strip</text>
<rect x="485" y="697.3" width="146.9" height="25.6" fill="#fff" stroke="#231815" stroke-width="1.4"/>
<path d="M479,709.7 C480.5,706.7 481,702.3 486,702.3" fill="none" stroke="#333" stroke-width="0.9"/>
<path d="M479,709.7 C480.5,712.7 481,718.5999999999999 486,718.5999999999999" fill="none" stroke="#d02048" stroke-width="1"/>
<rect x="487.2" y="700.5999999999999" width="6.4" height="3.4" rx="1.7" fill="#fff" stroke="#777" stroke-width="0.6"/>
<circle cx="490.4" cy="702.3" r="0.6" fill="#444"/>
<rect x="487.2" y="716.8999999999999" width="6.4" height="3.4" rx="1.7" fill="#fff" stroke="#777" stroke-width="0.6"/>
<circle cx="490.4" cy="718.5999999999999" r="0.6" fill="#444"/>
<rect x="496.7" y="701.0" width="6.6" height="1.5" fill="#231815"/>
<path d="M493.8,718.8 L500.5,718.8 M497.4,715.9 L497.4,721.9" stroke="#2a2a40" stroke-width="1"/>
<text x="516.99" y="713" font-size="10.9" font-weight="normal" fill="#3a3a3a" textLength="31.00" lengthAdjust="spacingAndGlyphs" stroke="#3a3a3a" stroke-width="0.2">Single</text>
<text x="550.33" y="713" font-size="10.9" font-weight="normal" fill="#3a3a3a" textLength="24.06" lengthAdjust="spacingAndGlyphs" stroke="#3a3a3a" stroke-width="0.2">color</text>
<text x="576.79" y="713" font-size="10.9" font-weight="normal" fill="#3a3a3a" textLength="16.93" lengthAdjust="spacingAndGlyphs" stroke="#3a3a3a" stroke-width="0.2">LED</text>
<text x="597.18" y="713" font-size="10.9" font-weight="normal" fill="#3a3a3a" textLength="21.60" lengthAdjust="spacingAndGlyphs" stroke="#3a3a3a" stroke-width="0.2">strip</text>
<rect x="485" y="727.3" width="146.9" height="25.6" fill="#fff" stroke="#231815" stroke-width="1.4"/>
<path d="M479,739.4 C480.5,736.4 481,732.3 486,732.3" fill="none" stroke="#333" stroke-width="0.9"/>
<path d="M479,739.4 C480.5,742.4 481,748.5999999999999 486,748.5999999999999" fill="none" stroke="#d02048" stroke-width="1"/>
<rect x="487.2" y="730.5999999999999" width="6.4" height="3.4" rx="1.7" fill="#fff" stroke="#777" stroke-width="0.6"/>
<circle cx="490.4" cy="732.3" r="0.6" fill="#444"/>
<rect x="487.2" y="746.8999999999999" width="6.4" height="3.4" rx="1.7" fill="#fff" stroke="#777" stroke-width="0.6"/>
<circle cx="490.4" cy="748.5999999999999" r="0.6" fill="#444"/>
<rect x="496.7" y="731.0" width="6.6" height="1.5" fill="#231815"/>
<path d="M493.8,748.8 L500.5,748.8 M497.4,745.9 L497.4,751.9" stroke="#2a2a40" stroke-width="1"/>
<text x="516.99" y="743" font-size="10.9" font-weight="normal" fill="#3a3a3a" textLength="31.00" lengthAdjust="spacingAndGlyphs" stroke="#3a3a3a" stroke-width="0.2">Single</text>
<text x="550.33" y="743" font-size="10.9" font-weight="normal" fill="#3a3a3a" textLength="24.06" lengthAdjust="spacingAndGlyphs" stroke="#3a3a3a" stroke-width="0.2">color</text>
<text x="576.79" y="743" font-size="10.9" font-weight="normal" fill="#3a3a3a" textLength="16.93" lengthAdjust="spacingAndGlyphs" stroke="#3a3a3a" stroke-width="0.2">LED</text>
<text x="597.18" y="743" font-size="10.9" font-weight="normal" fill="#3a3a3a" textLength="21.60" lengthAdjust="spacingAndGlyphs" stroke="#3a3a3a" stroke-width="0.2">strip</text>
<circle cx="2" cy="571.5" r="1.1" fill="#888"/>
</svg></body></html>
